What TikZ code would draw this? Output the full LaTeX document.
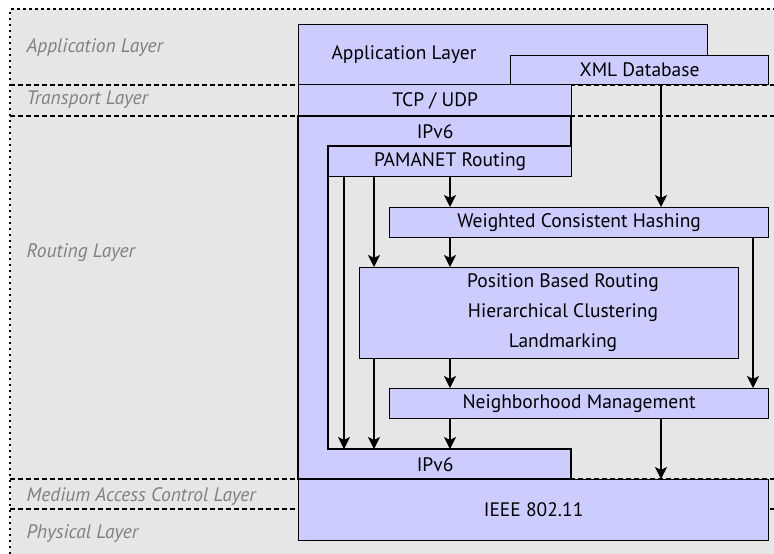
\documentclass[tikz,border=0pt]{standalone}
\usepackage{fontspec}
\setmainfont{PT Sans}
\usetikzlibrary{arrows.meta,positioning}

\definecolor{boxblue}{HTML}{CCCCFF}
\definecolor{bggray}{HTML}{E6E6E6}
\definecolor{lblgray}{HTML}{808080}

\begin{document}
\begin{tikzpicture}[
        x=1pt, y=-1pt,
        line width=1.2pt,
        every node/.style={font=\fontsize{19.5}{23}\selectfont, inner sep=0pt},
        layerbox/.style={draw, fill=boxblue, anchor=north west},
        layerlbl/.style={anchor=west, text=lblgray, font=\fontsize{19.5}{23}\selectfont\itshape},
        border/.style={line width=1.2pt, dash pattern=on 2.5pt off 3.5pt},
        sep/.style={line width=1.1pt, dash pattern=on 5pt off 3pt},
        flow/.style={-{Stealth[length=12pt, width=12pt, inset=3pt]}, line width=1.3pt}
    ]

    \useasboundingbox (0,0) rectangle (774,554);
    \clip (0,0) rectangle (774,554);

    % Background and layers
    \fill[bggray] (10,9) rectangle (780,560);
    \draw[border] (10,560) -- (10,9) -- (780,9);
    \draw[sep] (10,85) -- (780,85);
    \draw[sep] (10,116) -- (780,116);
    \draw[sep] (10,479) -- (780,479);
    \draw[sep] (10,509) -- (780,509);

    \node[layerlbl] (lApp) at (26,48) {Application Layer};
    \node[layerlbl] (lTrans) at (26,100) {Transport Layer};
    \node[layerlbl] (lRout) at (26,253) {Routing Layer};
    \node[layerlbl] (lMac) at (26,497) {Medium Access Control Layer};
    \node[layerlbl] (lPhy) at (26,534) {Physical Layer};

    % Stack
    \node[layerbox, minimum width=409pt, minimum height=60pt] (app) at (298,24) {};
    \node (appText) at (404,55) {Application Layer};
    \node[layerbox, minimum width=258pt, minimum height=29pt] (xml) at (510,55) {XML Database};
    \node[layerbox, minimum width=273pt, minimum height=32pt] (tcp) at (298,84) {TCP / UDP};

    \draw[fill=boxblue] (298,116) -- (571,116) -- (571,146) -- (328,146) -- (328,449)
        -- (571,449) -- (571,479) -- (298,479) -- cycle;
    \node[anchor=north west, minimum width=273pt, minimum height=30pt] (ipTop) at (298,116) {IPv6};
    \node[anchor=north west, minimum width=273pt, minimum height=30pt] (ipBot) at (298,449) {IPv6};

    \node[layerbox, minimum width=243pt, minimum height=30pt] (pamanet) at (328,146) {PAMANET Routing};
    \node[layerbox, minimum width=379pt, minimum height=30pt] (wch) at (389,207) {Weighted Consistent Hashing};
    \node[layerbox, minimum width=379pt, minimum height=91pt] (pos) at (359,267) {};
    \node[align=center, font=\fontsize{19.5}{30}\selectfont] (posText) at (563,313)
        {Position Based Routing\\Hierarchical Clustering\\Landmarking};
    \node[layerbox, minimum width=379pt, minimum height=30pt] (nbr) at (389,388) {Neighborhood Management};
    \node[layerbox, minimum width=470pt, minimum height=61pt] (ieee) at (298,479) {IEEE 802.11};

    % Columns
    \coordinate (colA) at (344,0);
    \coordinate (colB) at (374,0);
    \coordinate (colC) at (450,0);
    \coordinate (colD) at (661,0);
    \coordinate (colE) at (753,0);

    % Edges
    \draw[flow] (pamanet.south -| colA) -- (ipBot.north -| colA);
    \draw[flow] (pamanet.south -| colB) -- (pos.north -| colB);
    \draw[flow] (pos.south -| colB) -- (ipBot.north -| colB);
    \draw[flow] (pamanet.south -| colC) -- (wch.north -| colC);
    \draw[flow] (wch.south -| colC) -- (pos.north -| colC);
    \draw[flow] (pos.south -| colC) -- (nbr.north -| colC);
    \draw[flow] (nbr.south -| colC) -- (ipBot.north -| colC);
    \draw[flow] (xml.south -| colD) -- (wch.north -| colD);
    \draw[flow] (nbr.south -| colD) -- (ieee.north -| colD);
    \draw[flow] (wch.south -| colE) -- (nbr.north -| colE);

\end{tikzpicture}
\end{document}
